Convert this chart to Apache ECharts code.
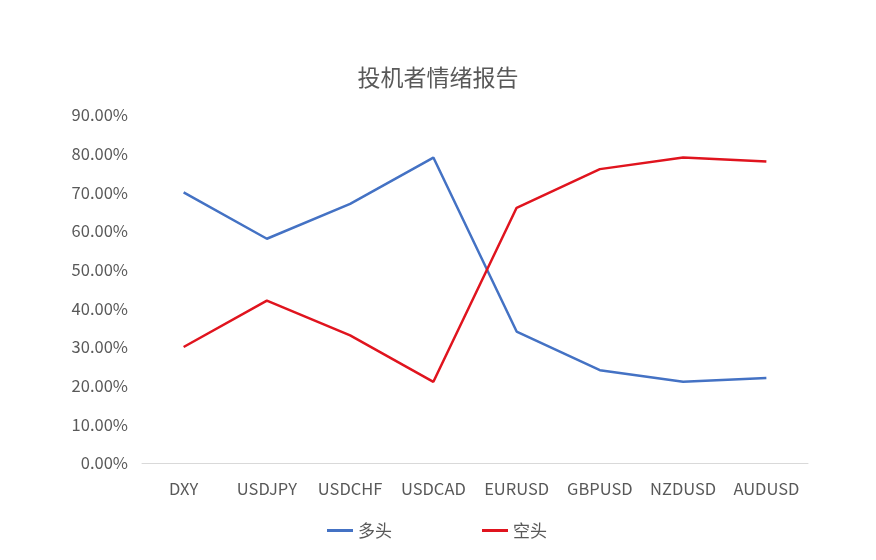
<!DOCTYPE html>
<html><head><meta charset="utf-8">
<script src="https://cdn.jsdelivr.net/npm/echarts@6/dist/echarts.min.js"></script>
<style>html,body{margin:0;padding:0;background:#fff}#c{width:876px;height:560px}</style>
</head><body><div id="c"></div>
<script>
const categories = ['DXY','USDJPY','USDCHF','USDCAD','EURUSD','GBPUSD','NZDUSD','AUDUSD'];
const longValues = [70, 58, 67, 79, 34, 24, 21, 22];
const shortValues = [30, 42, 33, 21, 66, 76, 79, 78];
const seriesNames = ['多头', '空头'];
const chart = echarts.init(document.getElementById('c'));
const font = '"Microsoft YaHei","Noto Sans CJK SC","DejaVu Sans",sans-serif';
chart.setOption({
  animation: false,
  title: {text: '投机者情绪报告', left: 'center', top: 61,
    textStyle: {fontFamily: font, fontSize: 23, fontWeight: 'normal', color: '#595959'}},
  legend: {bottom: 16, left: 322, itemWidth: 26, itemHeight: 3, itemGap: 90,
    icon: 'rect',
    textStyle: {fontFamily: font, fontSize: 17, color: '#595959'},
    data: seriesNames},
  grid: {left: 142, right: 68, top: 115, bottom: 97},
  xAxis: {type: 'category', data: categories, boundaryGap: true,
    axisLine: {lineStyle: {color: '#d9d9d9'}}, axisTick: {show: false},
    axisLabel: {interval: 0, fontFamily: font, fontSize: 16.5, color: '#595959', margin: 17}},
  yAxis: {type: 'value', min: 0, max: 90, interval: 10,
    splitLine: {show: false}, axisLine: {show: false}, axisTick: {show: false},
    axisLabel: {fontFamily: font, fontSize: 16.5, color: '#595959', margin: 14,
      formatter: v => v.toFixed(2) + '%'}},
  series: [
    {name: seriesNames[0], type: 'line', data: longValues, symbol: 'none',
      lineStyle: {color: '#4472C4', width: 2.5}, itemStyle: {color: '#4472C4'}},
    {name: seriesNames[1], type: 'line', data: shortValues, symbol: 'none',
      lineStyle: {color: '#E0141E', width: 2.5}, itemStyle: {color: '#E0141E'}}
  ]
});
</script></body></html>
